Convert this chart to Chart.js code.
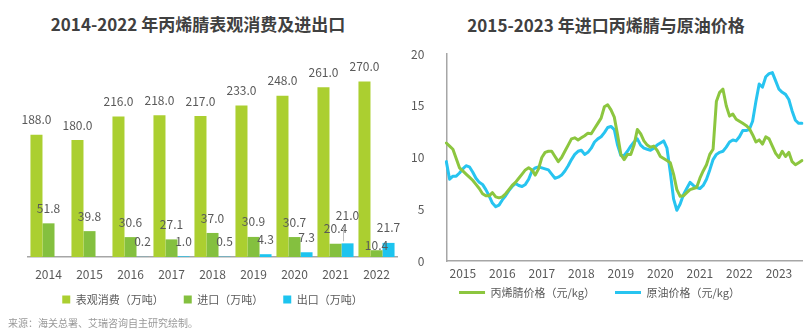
<!DOCTYPE html>
<html><head><meta charset="utf-8">
<script src="https://cdn.jsdelivr.net/npm/chart.js@4.4.1/dist/chart.umd.min.js"></script>
<style>
html,body{margin:0;padding:0;background:#fff;}
body{width:811px;height:334px;overflow:hidden;position:relative;font-family:'Noto Sans CJK SC','Noto Sans',sans-serif;}
canvas{position:absolute;top:0;}
#c1{left:0;}
#c2{left:390px;}
.title{position:absolute;font-size:17px;font-weight:bold;color:#404040;line-height:24px;text-align:center;white-space:nowrap;}
#t1{left:0;width:396px;top:12px;}
#t2{left:406px;width:400px;top:13px;}
#src{position:absolute;left:8px;top:316px;font-size:10px;color:#999;line-height:14px;white-space:nowrap;}
</style></head><body>
<div class="title" id="t1">2014-2022 年丙烯腈表观消费及进出口</div>
<div class="title" id="t2">2015-2023 年进口丙烯腈与原油价格</div>
<canvas id="c1" width="400" height="334"></canvas>
<canvas id="c2" width="421" height="334"></canvas>
<div id="src">来源：海关总署、艾瑞咨询自主研究绘制。</div>
<script>
// ---- Left chart data (万吨) ----
const barYears = ['2014','2015','2016','2017','2018','2019','2020','2021','2022'];
const consumption = [188.0,180.0,216.0,218.0,217.0,233.0,248.0,261.0,270.0];
const imports = [51.8,39.8,30.6,27.1,37.0,30.9,30.7,20.4,10.4];
const exportsData = [null,null,0.2,1.0,0.5,4.3,7.3,21.0,21.7];

// ---- Right chart data (元/kg), monthly from 2014-08 ----
const startYear = 2014, startMonth = 8;
const acrylonitrile = [
 11.4,11.1,10.8,9.9,9.0,8.7,8.4,8.1,7.8,7.4,7.0,6.5,
 6.3,6.3,6.6,6.2,6.1,6.2,6.5,6.9,7.3,7.6,8.0,8.4,
 8.8,9.0,8.8,8.3,8.9,10.0,10.5,10.6,10.6,10.1,9.6,10.0,
 10.6,11.2,11.8,11.9,11.7,11.9,12.1,12.35,12.3,12.8,13.3,13.8,
 14.9,15.1,14.6,13.9,12.2,10.3,9.8,10.3,10.3,11.2,12.7,12.3,
 11.6,11.2,11.0,11.1,10.7,10.1,9.9,9.7,9.5,8.4,6.9,6.25,
 6.3,6.6,6.9,7.0,7.1,8.0,8.7,9.3,10.3,10.8,15.4,16.3,
 16.6,15.0,14.0,14.2,13.7,13.5,13.3,13.1,12.8,12.2,11.5,11.7,
 11.3,12.0,11.8,11.1,10.4,10.0,10.6,10.1,10.5,9.6,9.3,9.5,
 9.7];
const crudeOil = [
 9.6,7.9,8.2,8.2,8.5,8.9,9.2,9.1,8.6,8.0,7.6,7.4,
 6.9,6.3,5.6,5.25,5.4,5.9,6.3,6.8,7.2,7.5,7.3,7.2,
 7.4,7.9,8.7,9.0,9.1,9.0,8.9,8.8,8.4,8.0,8.1,8.3,
 8.7,9.2,9.8,10.3,10.6,10.7,10.3,10.5,10.9,11.5,11.8,12.0,
 12.4,12.9,13.0,12.7,11.2,10.2,10.2,10.6,11.1,11.5,11.8,11.2,
 10.9,10.8,10.7,10.9,11.2,11.4,11.6,10.9,8.6,6.0,4.9,5.5,
 6.4,7.0,7.6,7.3,7.1,7.0,7.3,7.9,8.8,9.8,10.3,10.5,
 10.6,11.0,11.5,11.7,11.6,12.0,12.6,12.6,12.7,13.5,15.4,17.1,
 16.8,17.8,18.1,18.2,17.4,16.6,16.3,16.1,15.6,14.5,13.6,13.3,
 13.3];
const yTicks = [0,5,10,15,20];

const months = [];
for (let i = 0; i < acrylonitrile.length; i++) {
  const t = (startMonth - 1) + i;
  const y = startYear + Math.floor(t / 12);
  const m = (t % 12) + 1;
  months.push(y + '-' + String(m).padStart(2, '0'));
}

const FONT = "'Noto Sans CJK SC','Noto Sans',sans-serif";
const TXT = '#595959';
const AXIS = '#a6a6a6';

// let the x-axis labels overflow into the legend padding without being clipped
const unclipX = {
  id: 'unclipX',
  afterLayout(chart) {
    const s = chart.scales.x;
    s.bottom = s.top + 40;
  }
};

const valueLabels = {
  id: 'valueLabels',
  afterDatasetsDraw(chart, args, opts) {
    const ctx = chart.ctx;
    ctx.save();
    ctx.font = opts.size + 'px ' + FONT;
    ctx.fillStyle = opts.color;
    ctx.textAlign = 'center';
    ctx.textBaseline = 'middle';
    chart.data.datasets.forEach((ds, di) => {
      const meta = chart.getDatasetMeta(di);
      meta.data.forEach((bar, i) => {
        const v = ds.data[i];
        if (v == null) return;
        const shift = (opts.shift[di] && opts.shift[di][i]) || 0;
        const yc = bar.y - opts.gap - shift;
        ctx.fillText(v.toFixed(1), bar.x, yc);
        if (shift > 6) {
          ctx.strokeStyle = '#bfbfbf';
          ctx.lineWidth = 1;
          ctx.beginPath();
          ctx.moveTo(bar.x - 4, yc + 12);
          ctx.lineTo(bar.x - 4, bar.y - 2);
          ctx.stroke();
        }
      });
    });
    ctx.restore();
  }
};

new Chart(document.getElementById('c1'), {
  type: 'bar',
  data: {
    labels: barYears,
    datasets: [
      { label: '表观消费（万吨）', data: consumption, backgroundColor: '#abcf30' },
      { label: '进口（万吨）', data: imports, backgroundColor: '#84c03f' },
      { label: '出口（万吨）', data: exportsData, backgroundColor: '#1dc4ef' }
    ]
  },
  options: {
    responsive: false,
    animation: false,
    events: [],
    layout: { padding: { left: 28, right: 3, top: 62, bottom: 19 } },
    datasets: { bar: { categoryPercentage: 0.88, barPercentage: 1.0, borderWidth: 0 } },
    scales: {
      x: {
        grid: { display: false },
        border: { display: true, color: AXIS, width: 1.5 },
        ticks: { color: TXT, font: { size: 12, family: FONT }, padding: 2, maxRotation: 0 },
        afterFit(scale) { scale.height = 17; }
      },
      y: { display: false, min: 0, max: 300 }
    },
    plugins: {
      title: { display: false },
      tooltip: { enabled: false },
      legend: {
        position: 'bottom',
        labels: { boxWidth: 8, boxHeight: 8, color: TXT, font: { size: 11, family: FONT }, padding: 20 }
      },
      valueLabels: {
        size: 12, color: TXT, gap: 15,
        shift: { 1: { 8: -10 }, 2: { 7: 13 } }
      }
    }
  },
  plugins: [valueLabels, unclipX]
});

new Chart(document.getElementById('c2'), {
  type: 'line',
  data: {
    labels: months,
    datasets: [
      { label: '丙烯腈价格（元/kg）', data: acrylonitrile, borderColor: '#8cc63f', backgroundColor: '#8cc63f',
        borderWidth: 3, pointRadius: 0, tension: 0, borderJoinStyle: 'round', borderCapStyle: 'round' },
      { label: '原油价格（元/kg）', data: crudeOil, borderColor: '#27c4f0', backgroundColor: '#27c4f0',
        borderWidth: 3, pointRadius: 0, tension: 0, borderJoinStyle: 'round', borderCapStyle: 'round' }
    ]
  },
  options: {
    responsive: false,
    animation: false,
    events: [],
    layout: { padding: { left: 7, right: 9, top: 54, bottom: 26 } },
    scales: {
      x: {
        grid: { display: false },
        border: { display: true, color: AXIS, width: 1.5 },
        ticks: {
          autoSkip: false, maxRotation: 0, minRotation: 0, padding: -3,
          color: TXT, font: { size: 12, family: FONT },
          callback(v, i) { const l = months[i]; return l.endsWith('-01') ? l.slice(0, 4) : ''; }
        },
        afterFit(scale) { scale.height = 6; }
      },
      y: {
        min: 0, max: 20,
        grid: { display: false },
        border: { display: true, color: AXIS, width: 1.5 },
        afterBuildTicks(scale) { scale.ticks = yTicks.map(v => ({ value: v })); },
        ticks: { color: TXT, font: { size: 12, family: FONT }, padding: 14 }
      }
    },
    plugins: {
      title: { display: false },
      tooltip: { enabled: false },
      legend: {
        position: 'bottom',
        labels: { usePointStyle: true, pointStyle: 'line', pointStyleWidth: 26, color: TXT,
                  font: { size: 11, family: FONT }, padding: 20 }
      }
    }
  },
  plugins: [unclipX]
});
</script>
</body></html>
